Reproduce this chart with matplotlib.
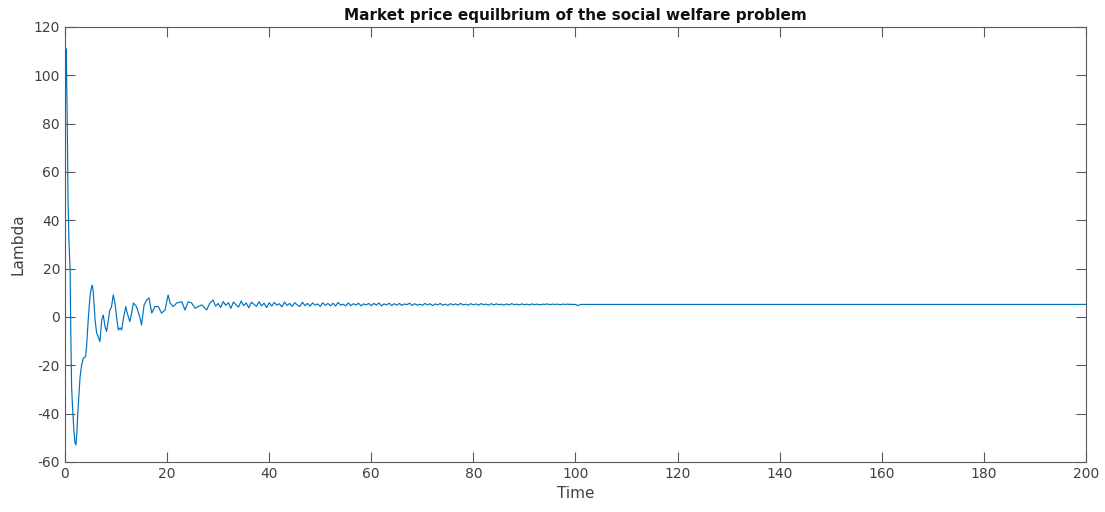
import numpy as np
import matplotlib
matplotlib.use("Agg")
import matplotlib.pyplot as plt

plt.rcParams['font.family'] = ['DejaVu Sans']
plt.rcParams['axes.unicode_minus'] = False

# Transient phase: irregular sample times and price values
t_transient = [0, 0.1, 0.2, 0.3, 0.45, 0.6, 0.8, 1.0, 1.15, 1.3, 1.5, 1.75, 1.95,
               2.15, 2.35, 2.5, 2.75, 2.95, 3.25, 3.6, 4.05, 4.25, 4.55, 4.9, 5.15,
               5.35, 5.55, 5.9, 6.2, 6.5, 6.85, 7.2, 7.5, 7.85, 8.15, 8.5, 8.8, 9.1,
               9.45, 9.8, 10.1, 10.45, 10.8, 11.1, 11.4, 11.9, 12.2, 12.7, 13.05,
               13.4, 14.0, 14.7, 15.0, 15.5, 16.0, 16.45, 17.0, 17.6, 18.3, 18.9,
               19.6, 20.2, 20.6, 21.2, 21.9, 22.9, 23.5, 24.15, 24.8, 25.5, 26.1,
               26.8, 27.75, 28.4, 29.0, 29.5]
lam_transient = [48, 95, 111, 104, 80, 48, 30, 20, -8, -29, -38, -47, -52,
                 -53, -47, -40, -32, -25, -20, -17, -16.4, -11.6, -1.2, 8.4, 12,
                 13.2, 10, -1.2, -6.6, -8.1, -10.2, -1.2, 0.8, -4, -6, -1.2, 2.9, 4,
                 9.1, 5.8, 0.1, -5.4, -4.5, -5.4, -1.2, 4.3, 1.6, -1.9, 1.6,
                 5.8, 4.3, -0.4, -3.3, 5, 7, 7.9, 1.6, 4.3, 4.3, 1.6,
                 2.9, 9.1, 5.8, 4.3, 5.8, 6.3, 2.9, 6.3, 5.8, 3.6, 4.3,
                 5, 2.9, 5.8, 7, 4.5]

# Settling phase: samples every 0.5 s from t = 30 to t = 99.5
lam_settling = [
    5.6, 3.9, 6.4, 4.8, 5.9, 3.6, 6.2, 5.0, 4.1, 6.6, 4.7, 5.8, 3.8, 6.1, 5.3, 4.4, 6.3, 4.6, 5.7, 3.9,
    5.9, 4.5, 6.0, 4.9, 5.5, 4.2, 6.2, 4.8, 5.6, 4.4, 5.9, 5.0, 4.3, 6.1, 4.7, 5.6, 4.5, 5.8, 4.9, 5.4,
    4.4, 5.9, 4.8, 5.6, 4.6, 5.7, 4.5, 6.0, 4.9, 5.3, 4.6, 5.8, 4.7, 5.5, 4.9, 5.7, 4.6, 5.4, 5.0, 5.6,
    4.7, 5.6, 4.9, 5.8, 4.6, 5.4, 5.0, 5.7, 4.7, 5.5, 4.9, 5.6, 4.8, 5.4, 5.1, 5.7, 4.8, 5.5, 4.9, 5.3,
    4.8, 5.6, 5.0, 5.5, 4.7, 5.4, 5.0, 5.6, 4.9, 5.3, 4.8, 5.5, 5.0, 5.4, 4.9, 5.6, 5.0, 5.3, 4.9, 5.5,
    5.0, 5.4, 4.9, 5.5, 5.1, 5.3, 4.9, 5.5, 5.0, 5.4, 5.1, 5.3, 4.9, 5.4, 5.0, 5.5, 5.1, 5.3, 5.0, 5.4,
    5.1, 5.3, 5.0, 5.4, 5.1, 5.3, 5.0, 5.3, 5.2, 5.4, 5.1, 5.3, 5.2, 5.3, 5.1, 5.3, 5.2, 5.3, 5.2, 5.2,
]
t_settling = np.arange(len(lam_settling)) * 0.5 + 30.0

# Steady state
t_steady = [100.0, 100.5, 101.0, 200.0]
lam_steady = [5.2, 4.7, 5.2, 5.2]

time = np.concatenate([t_transient, t_settling, t_steady])
lam = np.concatenate([lam_transient, lam_settling, lam_steady])

x_ticks = [0, 20, 40, 60, 80, 100, 120, 140, 160, 180, 200]
y_ticks = [-60, -40, -20, 0, 20, 40, 60, 80, 100, 120]

fig = plt.figure(figsize=(11.05, 5.12), dpi=100)
ax = fig.add_axes([0.0588, 0.0977, 0.9240, 0.8496])

ax.plot(time, lam, color='#0072BD', linewidth=0.85)

ax.set_xlim(0, 200)
ax.set_ylim(-60, 120)
ax.set_xticks(x_ticks)
ax.set_yticks(y_ticks)

label_color = '#404040'
for side in ['left', 'right', 'top', 'bottom']:
    ax.spines[side].set_color('#5a5a5a')
    ax.spines[side].set_linewidth(0.8)
ax.tick_params(direction='in', length=7, width=0.8, color='#5a5a5a',
               labelcolor=label_color, labelsize=10,
               top=True, right=True)

ax.set_xlabel('Time', fontsize=11, color=label_color, labelpad=4)
ax.set_ylabel('Lambda', fontsize=11, color=label_color, labelpad=6)
ax.set_title('Market price equilbrium of the social welfare problem',
             fontsize=11, fontweight='bold', color='#111111', pad=5)

fig.savefig('out.png', dpi=100, facecolor='white')
